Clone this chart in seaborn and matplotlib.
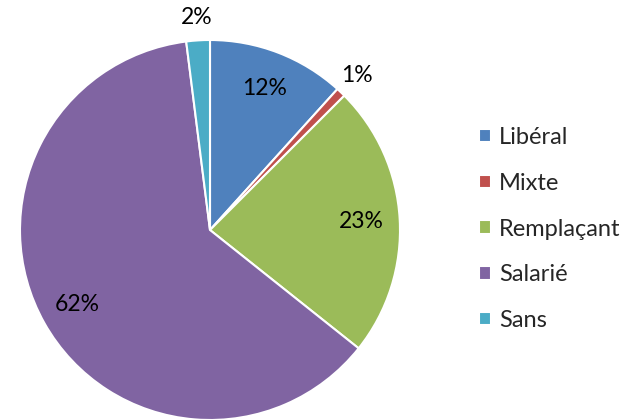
import matplotlib
matplotlib.use("Agg")
import matplotlib.pyplot as plt
import seaborn as sns
import numpy as np

# data
categories = ["Libéral", "Mixte", "Remplaçant", "Salarié", "Sans"]
values = [11.7, 0.8, 23.2, 62.3, 2.0]
labels_pct = ["12%", "1%", "23%", "62%", "2%"]
colors = ["#4F81BD", "#C0504D", "#9BBB59", "#8064A2", "#4BACC6"]
outside = [False, True, False, False, True]

sns.set_style("white")
plt.rcParams['font.family'] = ['Lato', 'DejaVu Sans']

fig = plt.figure(figsize=(6.43, 4.19), dpi=100)
ax = fig.add_axes([20 / 643, -1 / 419, 380 / 643, 380 / 419])

wedges, texts = ax.pie(values, colors=colors, startangle=90, counterclock=False,
                       radius=1, wedgeprops=dict(edgecolor="white", linewidth=1.5))

# percentage labels, small slices outside
for w, lab, out in zip(wedges, labels_pct, outside):
    mid = np.deg2rad((w.theta1 + w.theta2) / 2)
    d = 1.12 if out else 0.8
    ax.text(d * np.cos(mid), d * np.sin(mid), lab, ha="center", va="center",
            fontsize=16.5, color="black")

ax.set_xlim(-1, 1)
ax.set_ylim(-1, 1)
ax.set_aspect("equal")
ax.axis("off")

fig.legend(wedges, categories, loc="center left",
           bbox_to_anchor=(458 / 643, (419 - 229) / 419),
           frameon=False, fontsize=17, labelspacing=1.05, handlelength=0.5,
           handleheight=0.5, handletextpad=0.35)

fig.savefig("out.png", dpi=100)
